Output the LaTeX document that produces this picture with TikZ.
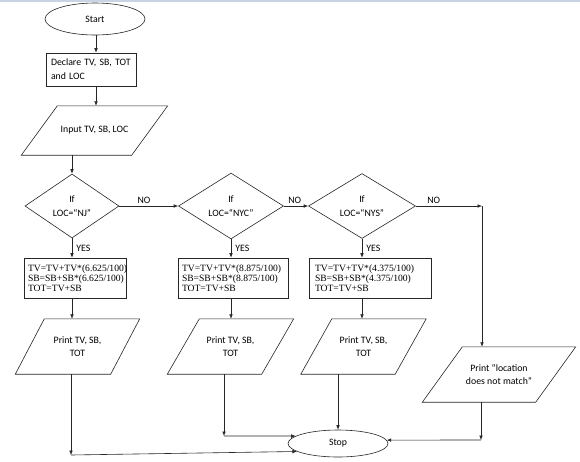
\documentclass[tikz,border=0pt]{standalone}
\usepackage{fontspec}
\setmainfont{Carlito}
\newfontfamily\formfont{Liberation Serif}
\usetikzlibrary{shapes.geometric,arrows.meta,calc}
\tikzset{
  ln/.style={draw=black!85, line width=0.6pt},
  txt/.style={font=\fontsize{9.8}{12.5}\selectfont, inner sep=0pt},
  arr/.style={ln, -{Latex[length=4.5pt,width=3.6pt]}},
  term/.style={ln, txt, ellipse, minimum width=100pt},
  procbox/.style={ln, txt, rectangle, align=left, inner xsep=4pt},
  formbox/.style={procbox, font=\formfont\fontsize{9.6}{10}\selectfont},
  dec/.style={ln, txt, diamond, align=center, minimum height=64pt},
  iotext/.style={txt, rectangle, align=center, minimum height=#1},
  lbl/.style={txt}
}
\newcommand\paral[7]{%
  \node[iotext=#5pt, minimum width=#4pt] (#1) at (#2,#3) {#7};
  \draw[ln] ($(#1.south west)+(-#6/2,0)$) -- ($(#1.north west)+(#6/2,0)$)
    -- ($(#1.north east)+(#6/2,0)$) -- ($(#1.south east)+(-#6/2,0)$) -- cycle;
}
\begin{document}
\begin{tikzpicture}[x=1pt,y=-1pt]
\useasboundingbox (0,0) rectangle (580,461);
\fill[white] (0,0) rectangle (580,461);
\draw[line width=1.5pt, color={rgb,255:red,200;green,212;blue,228}] (0,0.75) -- (580,0.75);

\node[term, minimum height=32pt] (start) at (95,19) {Start};
\node[procbox, minimum width=90pt, minimum height=33pt, text width=80pt, inner xsep=5pt, font=\fontsize{9.8}{14}\selectfont] (decl) at (91,69.5) {Declare TV, SB, TOT\\and LOC};
\paral{inp}{94.5}{130.5}{110}{49}{36}{Input TV, SB, LOC}

\node[dec, minimum width=94pt] (d1) at (72,206) {If\\[1.5pt]LOC=“NJ”};
\node[dec, minimum width=105pt] (d2) at (231,206) {If\\[1.5pt]LOC=“NYC”};
\node[dec, minimum width=107pt] (d3) at (362,206) {If\\[1.5pt]LOC=“NYS”};

\node[formbox, minimum width=102pt, minimum height=40pt, text width=94pt] (b1) at (75,278) {TV=TV+TV*(6.625/100)\\SB=SB+SB*(6.625/100)\\TOT=TV+SB};
\node[formbox, minimum width=110pt, minimum height=40pt, text width=102pt] (b2) at (233,278) {TV=TV+TV*(8.875/100)\\SB=SB+SB*(8.875/100)\\TOT=TV+SB};
\node[formbox, minimum width=118pt, minimum height=40pt, text width=110pt, inner xsep=6pt] (b3) at (370,278) {TV=TV+TV*(4.375/100)\\SB=SB+SB*(4.375/100)\\TOT=TV+SB};

\paral{p1}{77.5}{346.5}{95}{55}{29}{Print TV, SB,\\TOT}
\paral{p2}{230.5}{346.5}{94}{55}{32}{Print TV, SB,\\TOT}
\paral{p3}{363.5}{346.5}{94}{55}{31}{Print TV, SB,\\TOT}
\paral{p4}{499}{374.5}{113}{55}{40}{Print “location\\does not match”}

\node[term, minimum height=27pt] (stop) at (338,443.5) {Stop};

\coordinate (cno) at (482,206);
\coordinate (c1) at (71,455);
\coordinate (c2) at (224,436);
\coordinate (c4) at (481,440);

% connectors
\draw[arr] (start.south -| 96,0) -- (decl.north -| 96,0);
\draw[arr] (decl.south -| 96,0) -- (inp.north -| 96,0);
\draw[arr] (inp.south -| d1.north) -- (d1.north);
\draw[arr] (d1.east) -- (d2.west) node[lbl, pos=0.42, above=2pt] {NO};
\draw[arr] (d2.east) -- (d3.west) node[lbl, pos=0.45, above=2pt] {NO};
\draw[arr] (d3.east) -- (cno) node[lbl, pos=0.27, above=2pt] {NO};
\draw[arr] (cno) -- (cno |- p4.north);
\draw[arr] (d1.south) -- (d1.south |- b1.north) node[lbl, midway, right=4pt] {YES};
\draw[arr] (d2.south) -- (d2.south |- b2.north) node[lbl, midway, right=4pt] {YES};
\draw[arr] (d3.south) -- (d3.south |- b3.north) node[lbl, midway, right=4pt] {YES};
\draw[arr] (b1.south -| d1.south) -- (p1.north -| d1.south);
\draw[arr] (b2.south -| d2.south) -- (p2.north -| d2.south);
\draw[arr] (b3.south -| d3.south) -- (p3.north -| d3.south);
\draw[arr] (p1.south -| c1) -- (c1);
\draw[arr] (c1) -- (stop.191);
\draw[arr] (p2.south -| c2) -- (c2);
\draw[arr] (c2) -- (stop.170);
\draw[arr] (p3.south -| stop.north) -- (stop.north);
\draw[arr] (p4.south -| c4) -- (c4);
\draw[arr] (c4) -- (stop.4);
\end{tikzpicture}
\end{document}
